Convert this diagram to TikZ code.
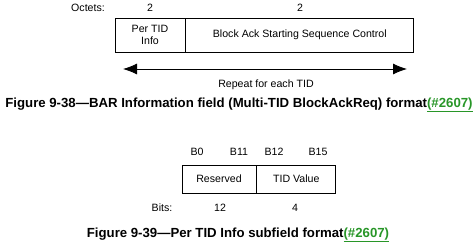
\documentclass[tikz,border=0pt]{standalone}
\usepackage{fontspec}
\setmainfont{Liberation Sans}
\usetikzlibrary{arrows.meta,positioning}
\definecolor{linkgreen}{RGB}{40,150,40}
\newcommand{\reflink}{\textcolor{linkgreen}{\underline{(\#2607)}}}

\begin{document}
\begin{tikzpicture}[x=1pt, y=-1pt, >=Latex, font=\fontsize{10.6}{11.5}\selectfont,
  field/.style={draw, thick, inner sep=0pt, minimum height=34pt, align=center},
  lbl/.style={inner sep=0pt, anchor=center},
  caption/.style={inner sep=0pt, font=\fontsize{13.2}{15}\selectfont\bfseries}]
\useasboundingbox (0,0) rectangle (476,244);
% Figure 9-38
\node[field, minimum width=70pt] (pertid) at (150,35) {Per TID\\Info};
\node[field, minimum width=228pt, right=0pt of pertid] (ssc) {Block Ack Starting Sequence Control};
\node[lbl] (octets) at (88,8) {Octets:};
\node[lbl] (o1) at (150,8) {2};
\node[lbl] (o2) at (300,8) {2};
\coordinate (rl) at (123,69);
\coordinate (rr) at (407,69);
\draw[{Latex[length=14pt,width=11pt]}-{Latex[length=14pt,width=11pt]}, thick] (rl) -- (rr);
\node[lbl] (repeat) at (266,85) {Repeat for each TID};
\node[caption] (cap1) at (239,105) {Figure 9-38---BAR Information field (Multi-TID BlockAckReq) format\reflink};
% Figure 9-39
\node[field, minimum width=74pt, minimum height=28pt] (resv) at (219,179) {Reserved};
\node[field, minimum width=79pt, minimum height=28pt, right=0pt of resv] (tid) {TID Value};
\node[lbl] (b0) at (197,152) {B0};
\node[lbl] (b11) at (239,152) {B11};
\node[lbl] (b12) at (274,152) {B12};
\node[lbl] (b15) at (318,152) {B15};
\node[lbl] (bits) at (162,208) {Bits:};
\node[lbl] (n12) at (220,208) {12};
\node[lbl] (n4) at (295,208) {4};
\node[caption] (cap2) at (238,235) {Figure 9-39---Per TID Info subfield format\reflink};
\end{tikzpicture}
\end{document}
